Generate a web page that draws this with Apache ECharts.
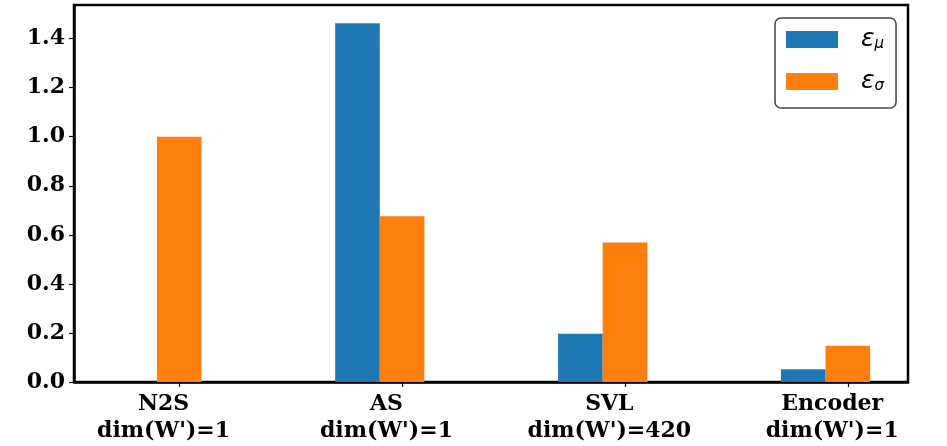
<!DOCTYPE html>
<html>
<head>
<meta charset="utf-8">
<script src="https://cdn.jsdelivr.net/npm/echarts@6/dist/echarts.min.js"></script>
<style>html,body{margin:0;padding:0;background:#fff;}#c{width:947px;height:446px;}</style>
</head>
<body>
<div id="c"></div>
<script>
// ---- data ----
const categories = ["N2S\ndim(W')=1", "AS\ndim(W')=1", "SVL\ndim(W')=420", "Encoder\ndim(W')=1"];
const seriesNames = ["εμ", "εσ"];
const epsMu = [0, 1.463, 0.197, 0.052];
const epsSigma = [1.0, 0.676, 0.569, 0.148];
const yTicks = [0, 0.2, 0.4, 0.6, 0.8, 1.0, 1.2, 1.4];
const yMax = 1.537;

const catIdx = categories.map((c, i) => i);
const chart = echarts.init(document.getElementById('c'));
const tickFont = { fontFamily: 'DejaVu Serif', fontWeight: 'bold', fontSize: 22, color: '#000' };

chart.setOption({
  animation: false,
  backgroundColor: '#fff',
  grid: { left: 74, right: 39, top: 5, bottom: 64, show: true, borderColor: '#000', borderWidth: 2.5, backgroundColor: 'transparent' },
  legend: {
    orient: 'vertical', left: 775, top: 18,
    padding: [9, 12, 14, 11], itemGap: 17, itemWidth: 52, itemHeight: 17,
    borderColor: '#444', borderWidth: 1.5, borderRadius: 6, backgroundColor: '#fff',
    icon: 'rect',
    formatter: n => '{e|ε}{s|' + n.slice(1) + '}',
    textStyle: {
      rich: {
        e: { fontFamily: 'DejaVu Sans', fontStyle: 'italic', fontSize: 25, color: '#000', padding: [0, 0, 0, 18], lineHeight: 22 },
        s: { fontFamily: 'DejaVu Sans', fontStyle: 'italic', fontSize: 15, color: '#000', padding: [10, 0, 0, 0], lineHeight: 22 }
      }
    },
    data: seriesNames
  },
  xAxis: {
    type: 'value', min: -0.372, max: 3.37,
    splitLine: { show: false },
    axisLine: { show: true, onZero: false, lineStyle: { color: '#000', width: 2.5 } },
    axisTick: { show: true, length: 5, lineStyle: { color: '#000', width: 1.2 }, customValues: catIdx.map(i => i + 0.1) },
    axisLabel: Object.assign({}, tickFont, {
      margin: 9, lineHeight: 27,
      customValues: catIdx.map(i => i + 0.03),
      formatter: v => categories[Math.round(v)]
    })
  },
  yAxis: {
    type: 'value', min: 0, max: yMax,
    splitLine: { show: false },
    axisLine: { show: true, onZero: false, lineStyle: { color: '#000', width: 2.5 } },
    axisTick: { show: true, length: 5, lineStyle: { color: '#000', width: 1.2 }, customValues: yTicks },
    axisLabel: Object.assign({}, tickFont, {
      margin: 9,
      customValues: yTicks,
      formatter: v => v.toFixed(1)
    })
  },
  series: [
    { name: seriesNames[0], type: 'bar', barWidth: 44.6, barGap: '0%', itemStyle: { color: '#1f77b4' },
      data: epsMu.map((v, i) => [i, v]) },
    { name: seriesNames[1], type: 'bar', barWidth: 44.6, barGap: '0%', itemStyle: { color: '#ff7f0e' },
      data: epsSigma.map((v, i) => [i, v]) }
  ]
});
</script>
</body>
</html>
